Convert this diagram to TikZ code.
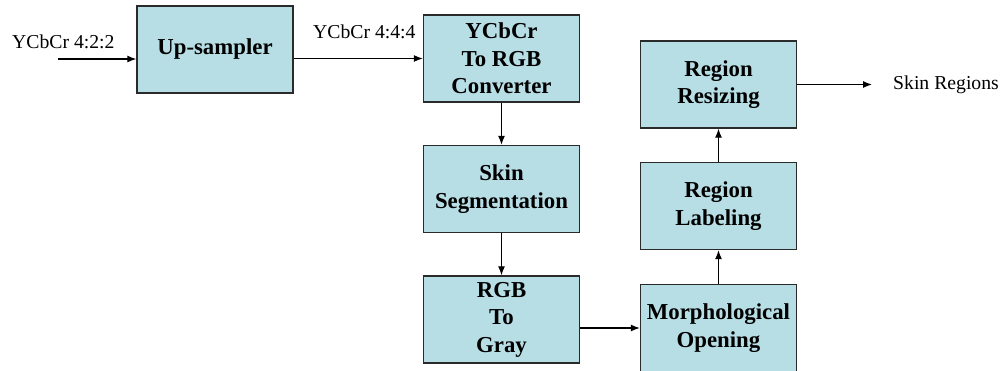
\documentclass[tikz,border=0pt]{standalone}
\usepackage{fontspec}
\setmainfont{Liberation Serif}
\usetikzlibrary{arrows.meta}
\definecolor{boxfill}{HTML}{B7DEE5}
\definecolor{boxline}{HTML}{2A2A2A}
\tikzset{
  stage/.style={draw=boxline, line width=1.4pt, fill=boxfill,
    minimum width=156pt, minimum height=87pt, inner sep=0pt,
    align=center, font=\fontsize{22.8}{27.5}\selectfont\bfseries},
  flow/.style={draw=black, line width=1.2pt,
    -{Latex[length=9pt,width=7pt]}},
  tag/.style={inner sep=0pt, font=\fontsize{19.7}{23}\selectfont}
}
\begin{document}
\begin{tikzpicture}[x=1pt, y=-1pt]
  \useasboundingbox (0,0) rectangle (1004,371);

  % processing stages
  \node[stage] (up)     at (215,49.5)  {Up-sampler};
  \node[stage] (conv)   at (501.5,58.5) {YCbCr\\To RGB\\Converter};
  \node[stage] (skin)   at (501.5,189)  {Skin\\Segmentation};
  \node[stage] (gray)   at (501.5,319.5) {RGB\\To\\Gray};
  \node[stage] (morph)  at (718.5,328)  {Morphological\\Opening};
  \node[stage] (label)  at (718.5,206)  {Region\\Labeling};
  \node[stage] (resize) at (718.5,84.5) {Region\\Resizing};

  % input and output
  \coordinate (in)  at (58,59);
  \coordinate (out) at (872,84.5);
  \node[tag, anchor=base west] (inlbl)  at (12,49)  {YCbCr 4:2:2};
  \node[tag, anchor=base west] (midlbl) at (313,39) {YCbCr 4:4:4};
  \node[tag, anchor=west] (outlbl) at (893,84.5) {Skin Regions};

  % connectors
  \draw[flow] (in) -- (in -| up.west);
  \draw[flow] (conv.west -| up.east) -- (conv.west);
  \draw[flow] (conv.south) -- (skin.north);
  \draw[flow] (skin.south) -- (gray.north);
  \draw[flow] (morph.west -| gray.east) -- (morph.west);
  \draw[flow] (morph.north) -- (label.south);
  \draw[flow] (label.north) -- (resize.south);
  \draw[flow] (resize.east) -- (out);
\end{tikzpicture}
\end{document}
